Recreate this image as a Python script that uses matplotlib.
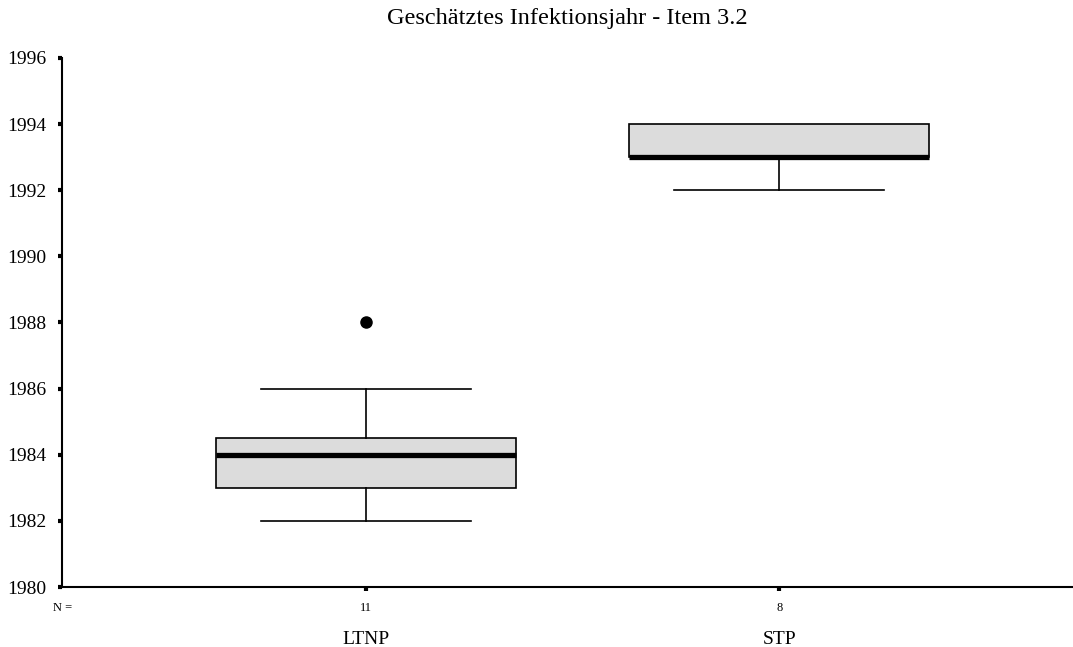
import matplotlib
matplotlib.use("Agg")
import matplotlib.pyplot as plt

plt.rcParams['font.family'] = ['Liberation Serif', 'DejaVu Serif']

# Gruppen und Kennwerte der Boxplots (Infektionsjahr)
groups = ['LTNP', 'STP']
n_cases = [11, 8]
whisker_low = [1982, 1992]
q1 = [1983, 1993]
medians = [1984, 1993]
q3 = [1984.5, 1994]
whisker_high = [1986, 1994]
outliers = [[1988], []]

yticks = [1980, 1982, 1984, 1986, 1988, 1990, 1992, 1994, 1996]

stats = []
for i, g in enumerate(groups):
    stats.append({
        'label': g,
        'whislo': whisker_low[i],
        'q1': q1[i],
        'med': medians[i],
        'q3': q3[i],
        'whishi': whisker_high[i],
        'fliers': outliers[i],
    })

fig = plt.figure(figsize=(10.73, 6.47), dpi=100)
ax = fig.add_axes([0.0578, 0.0927, 0.942, 0.8177])

positions = [1, 2]
bp = ax.bxp(stats, positions=positions, widths=0.725, patch_artist=True,
            showfliers=True,
            boxprops=dict(facecolor='#dcdcdc', edgecolor='black', linewidth=1.2),
            medianprops=dict(color='black', linewidth=3.8, solid_capstyle='butt'),
            whiskerprops=dict(color='black', linewidth=1.2),
            capprops=dict(color='black', linewidth=1.2),
            capwidths=0.507,
            flierprops=dict(marker='o', markerfacecolor='black',
                            markeredgecolor='black', markersize=8))

# keine Kappe, wenn der Whisker auf der Boxkante endet
for i in range(len(groups)):
    if whisker_high[i] == q3[i]:
        bp['caps'][2 * i + 1].set_visible(False)
    if whisker_low[i] == q1[i]:
        bp['caps'][2 * i].set_visible(False)

ax.set_xlim(0.265, 2.71)
ax.set_ylim(1980, 1996)
ax.set_yticks(yticks)
ax.set_yticklabels([str(t) for t in yticks], fontsize=14)
ax.set_xticks(positions)
ax.set_xticklabels([str(n) for n in n_cases], fontsize=9)
ax.tick_params(axis='both', direction='out', length=3, width=3, color='black')
ax.tick_params(axis='y', pad=8)
ax.tick_params(axis='x', pad=8)

for side in ['top', 'right']:
    ax.spines[side].set_visible(False)
for side in ['left', 'bottom']:
    ax.spines[side].set_linewidth(1.5)

# Gruppennamen unter den Fallzahlen
for pos, g in zip(positions, groups):
    ax.text(pos, -0.1, g, transform=ax.get_xaxis_transform(),
            ha='center', va='center', fontsize=14)
ax.text(0.001, -0.04, 'N =', transform=ax.transAxes,
        ha='center', va='center', fontsize=9)

fig.text(0.529, 0.972, 'Geschätztes Infektionsjahr - Item 3.2',
         ha='center', va='center', fontsize=17.5)

fig.savefig('out.png', dpi=100)
